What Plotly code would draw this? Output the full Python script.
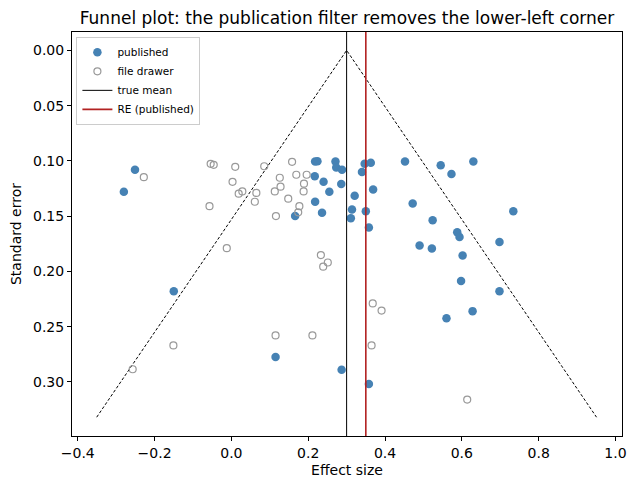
import plotly.graph_objects as go

# published studies (effect size, standard error)
pub_effect = [-0.251, -0.280, 0.218, 0.224, 0.271, 0.273, 0.288, 0.217, 0.240, 0.286,
              0.255, 0.218, 0.236, 0.166, 0.321, 0.314, 0.311, 0.347, 0.363, 0.340,
              0.369, 0.350, 0.358, 0.452, 0.545, 0.573, 0.630, 0.472, 0.524, 0.588,
              0.594, 0.734, 0.698, 0.490, 0.522, 0.602, 0.598, 0.698, 0.628, 0.560,
              0.287, 0.358, -0.150, 0.115]
pub_se = [0.108, 0.128, 0.1006, 0.1003, 0.1006, 0.106, 0.108, 0.114, 0.119, 0.121,
          0.128, 0.137, 0.147, 0.150, 0.1316, 0.144, 0.152, 0.1027, 0.1018, 0.110,
          0.126, 0.1457, 0.1604, 0.1006, 0.104, 0.112, 0.1006, 0.1385, 0.1538, 0.1646,
          0.169, 0.1457, 0.1735, 0.1766, 0.1793, 0.1856, 0.2087, 0.218, 0.236, 0.2424,
          0.289, 0.302, 0.218, 0.2775]

# file drawer studies
fd_effect = [-0.228, -0.054, -0.046, -0.057, 0.010, 0.003, 0.019, 0.0285, 0.065, 0.061,
             0.0855, 0.158, 0.126, 0.169, 0.196, 0.128, 0.189, 0.113, 0.188, 0.148,
             0.177, 0.174, 0.116, -0.012, 0.233, 0.251, 0.239, 0.115, 0.211, -0.151,
             -0.257, 0.368, 0.391, 0.365, 0.614]
fd_se = [0.1148, 0.1027, 0.1036, 0.141, 0.1054, 0.119, 0.1297, 0.1277, 0.129, 0.137,
         0.1049, 0.1009, 0.1153, 0.1126, 0.1126, 0.1234, 0.1207, 0.1277, 0.1277, 0.1342,
         0.141, 0.1466, 0.150, 0.179, 0.1853, 0.192, 0.1958, 0.258, 0.258, 0.267,
         0.2886, 0.229, 0.2355, 0.267, 0.316]

true_mean = 0.30
re_published = 0.35
se_max = 0.332

# funnel (95% pseudo-confidence limits around the true mean)
funnel_x = [true_mean - 1.96 * se_max, true_mean, true_mean + 1.96 * se_max]
funnel_se = [se_max, 0.0, se_max]

x_range = [-0.415, 1.017]
y_range = [0.349, -0.0166]

fig = go.Figure()

fig.add_trace(go.Scatter(
    x=funnel_x, y=funnel_se, mode="lines", showlegend=False, hoverinfo="skip",
    line=dict(color="black", width=1, dash="3px,2px")
))
fig.add_trace(go.Scatter(
    x=pub_effect, y=pub_se, mode="markers", name="published",
    marker=dict(color="#4682b4", size=8.5, line=dict(width=0))
))
fig.add_trace(go.Scatter(
    x=fd_effect, y=fd_se, mode="markers", name="file drawer",
    marker=dict(symbol="circle-open", color="#999999", size=7, line=dict(width=1.2))
))
fig.add_trace(go.Scatter(
    x=[true_mean, true_mean], y=[-0.05, 0.4], mode="lines", name="true mean",
    line=dict(color="black", width=1)
))
fig.add_trace(go.Scatter(
    x=[re_published, re_published], y=[-0.05, 0.4], mode="lines", name="RE (published)",
    line=dict(color="#b22222", width=1.6)
))

fig.update_layout(
    width=639, height=490,
    margin=dict(l=72, r=14, t=32, b=54),
    plot_bgcolor="white", paper_bgcolor="white",
    font=dict(family="DejaVu Sans", size=14, color="black"),
    title=dict(
        text="Funnel plot: the publication filter removes the lower-left corner",
        x=0.5, xref="paper", xanchor="center",
        y=1 - 18 / 490, yref="container", yanchor="middle",
        font=dict(size=17, color="black")
    ),
    legend=dict(
        x=0.008, y=0.988, xanchor="left", yanchor="top",
        bgcolor="rgba(255,255,255,0.8)", bordercolor="#cccccc", borderwidth=1,
        font=dict(size=10.5), tracegroupgap=0, itemwidth=30
    ),
    showlegend=True,
)

fig.update_xaxes(
    range=x_range, tickvals=[-0.4, -0.2, 0.0, 0.2, 0.4, 0.6, 0.8, 1.0], tickformat=".1f",
    showgrid=False, zeroline=False, showline=True, linecolor="black", linewidth=1,
    mirror=True, ticks="outside", ticklen=4, tickcolor="black",
    title=dict(text="Effect size", font=dict(size=14), standoff=5),
    tickfont=dict(size=14)
)
fig.update_yaxes(
    range=y_range, tickvals=[0.0, 0.05, 0.10, 0.15, 0.20, 0.25, 0.30], tickformat=".2f",
    showgrid=False, zeroline=False, showline=True, linecolor="black", linewidth=1,
    mirror=True, ticks="outside", ticklen=4, tickcolor="black",
    title=dict(text="Standard error", font=dict(size=14), standoff=8),
    tickfont=dict(size=14)
)

fig.write_html("out.html", config={"displayModeBar": False},
               post_script="document.body.style.margin='0px';")
